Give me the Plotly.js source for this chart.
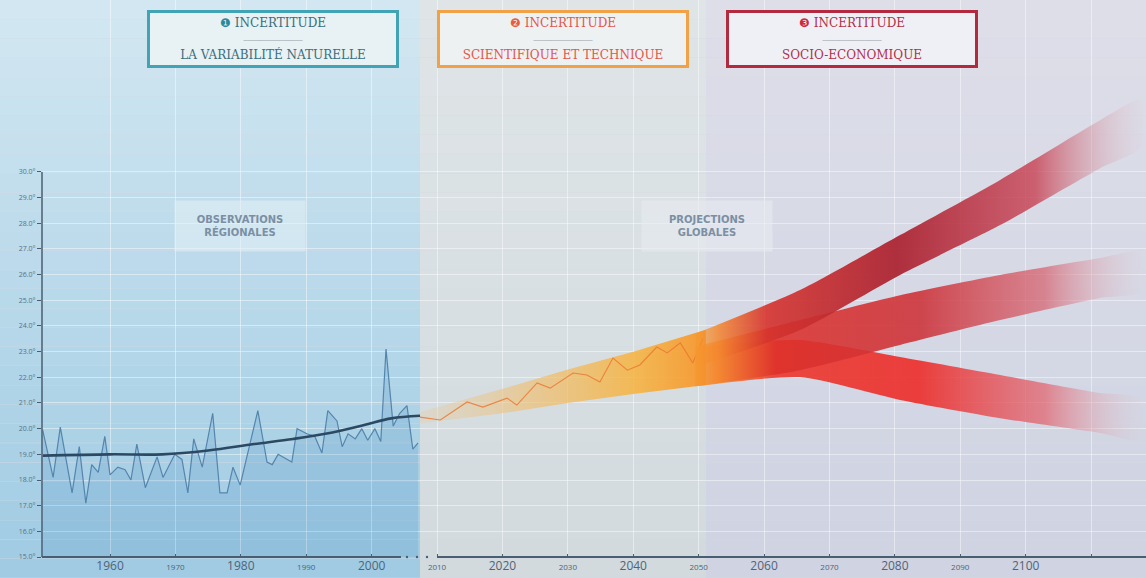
<!DOCTYPE html>
<html><head><meta charset="utf-8">
<script src="https://cdn.plot.ly/plotly-3.0.1.min.js"></script>
<style>html,body{margin:0;padding:0;background:#d5d9e3;} #chart{width:1146px;height:578px;}</style>
</head><body><div id="chart"></div>
<script>
// ---------- data ----------
const histYears = [1949.7,1951.3,1952.4,1954.2,1955.3,1956.3,1957.2,1958.2,1959.2,1960.0,1961.2,1962.3,1963.2,1964.1,1965.4,1967.2,1968.1,1969.9,1971.0,1971.9,1972.8,1974.1,1975.7,1976.8,1977.9,1978.8,1979.9,1982.6,1984.0,1984.8,1985.7,1986.8,1987.8,1988.6,1990.1,1991.3,1992.4,1993.3,1994.7,1995.5,1996.4,1997.5,1998.5,1999.4,2000.5,2001.4,2002.2,2003.3,2004.3,2005.4,2006.3,2007.1];
const histTemps = [19.95,18.1,20.06,17.5,19.3,17.1,18.6,18.3,19.7,18.2,18.5,18.4,18.0,19.4,17.7,18.9,18.1,19.0,18.8,17.5,19.6,18.5,20.6,17.5,17.5,18.5,17.8,20.7,18.7,18.6,19.0,18.85,18.7,20.0,19.8,19.7,19.05,20.7,20.3,19.3,19.8,19.6,20.0,19.55,20.0,19.5,23.1,20.1,20.6,20.9,19.2,19.45];

const trendYears = [1949.7,1960,1968,1975,1982,1988,1994,1999,2003,2007.4];
const trendTemps = [18.95,19.0,19.0,19.15,19.4,19.6,19.85,20.15,20.4,20.5];

const projYears = [2007.4,2010.5,2014.6,2017.0,2020.7,2022.2,2025.3,2027.3,2030.8,2032.9,2034.9,2036.9,2039.1,2041.0,2043.6,2045.2,2047.2,2049.1,2050.7];
const projTemps = [20.45,20.34,21.04,20.84,21.19,20.92,21.78,21.58,22.17,22.09,21.82,22.75,22.28,22.48,23.18,22.95,23.34,22.56,23.53];

const bandYears = [2007.4,2020,2030,2040,2051.1];
const bandUpper = [20.65,21.55,22.3,23.0,23.85];
const bandLower = [20.2,20.6,21.0,21.35,21.7];

const fanYears  = [2049.5,2065.5,2080.8,2096.1,2111.4,2117.5];
const highUpper = [23.7,25.4,27.54,29.69,32.02,32.8];
const highLower = [22.4,23.84,25.99,27.93,30.15,30.93];
const midUpper  = [23.2,24.23,25.2,25.99,26.65,26.88];
const midLower  = [21.65,22.28,23.26,24.23,25.09,25.32];
const lowUpper  = [23.2,23.45,22.79,22.09,21.39,21.19];
const lowLower  = [21.65,22.01,21.12,20.41,19.83,19.56];

const xTickVals   = [1960,1970,1980,1990,2000,2010,2020,2030,2040,2050,2060,2070,2080,2090,2100,2110];
const xTickLabels = ['1960','1970','1980','1990','2000','2010','2020','2030','2040','2050','2060','2070','2080','2090','2100',''];
const yTickVals   = [15,16,17,18,19,20,21,22,23,24,25,26,27,28,29,30];
const yTickLabels = ['15.0°','16.0°','17.0°','18.0°','19.0°','20.0°','21.0°','22.0°','23.0°','24.0°','25.0°','26.0°','27.0°','28.0°','29.0°','30.0°'];

const boxTitles = ['INCERTITUDE','INCERTITUDE','INCERTITUDE'];
const boxSubtitles = ['LA VARIABILITÉ NATURELLE','SCIENTIFIQUE ET TECHNIQUE','SOCIO-ECONOMIQUE'];
const boxNumbers = ['❶','❷','❸'];
const sectionLabels = ['OBSERVATIONS<br>RÉGIONALES','PROJECTIONS<br>GLOBALES'];

// ---------- layout helpers ----------
const X0 = 1949.6, X1 = 2118.4, Y0 = 15, Y1 = 36.7;
const W = 1146, H = 578, ML = 42, MB = 21;
const PW = W - ML, PH = H - MB;
const px = v => (v - ML) / PW;          // pixel x -> paper
const py = v => (PH - v) / PH;          // pixel y -> paper

function lerp(a, b, t){ return a.map((v,i)=>Math.round(v + (b[i]-v)*t)); }
const shapes = [];
function gradBand(x0, x1, top, bot, n){
  for (let i = 0; i < n; i++){
    const c = lerp(top, bot, i/(n-1));
    shapes.push({type:'rect', xref:'paper', yref:'paper', layer:'below',
      x0:x0, x1:x1, y0:py(i*H/n) , y1:py((i+1)*H/n - 0.01) + 0.0005,
      fillcolor:`rgb(${c[0]},${c[1]},${c[2]})`, line:{width:0}});
  }
}
gradBand(px(0), px(420), [210,231,241], [160,203,227], 30);
gradBand(px(420), px(706), [223,229,231], [210,218,222], 30);
gradBand(px(706), px(W), [221,222,232], [207,211,226], 30);

// axis lines (decorations, with the break)
const axisCol = '#4a5e72';
shapes.push({type:'line', xref:'paper', yref:'paper', x0:0, x1:px(401), y0:0, y1:0, line:{color:axisCol, width:2}});
shapes.push({type:'line', xref:'paper', yref:'paper', x0:px(437), x1:1, y0:0, y1:0, line:{color:axisCol, width:2}});
shapes.push({type:'line', xref:'paper', yref:'paper', x0:0, x1:0, y0:0, y1:(30-Y0)/(Y1-Y0), line:{color:axisCol, width:1.5}});
[407,417,427].forEach(x => shapes.push({type:'circle', xref:'paper', yref:'paper',
  x0:px(x-1.2), x1:px(x+1.2), y0:-1.2/PH, y1:1.2/PH, fillcolor:axisCol, line:{width:0}}));

// ---------- traces ----------
const traces = [];
traces.push({x:histYears, y:histTemps, type:'scatter', mode:'lines', fill:'tozeroy',
  fillcolor:'rgba(80,145,195,0.20)', line:{color:'#5485ad', width:1.2}, hoverinfo:'skip'});
traces.push({x:trendYears, y:trendTemps, type:'scatter', mode:'lines',
  line:{color:'#2c4963', width:2.6, shape:'spline'}, hoverinfo:'skip'});

traces.push({x:bandYears.concat(bandYears.slice().reverse()), y:bandUpper.concat(bandLower.slice().reverse()),
  type:'scatter', mode:'lines', fill:'toself', line:{width:0},
  fillgradient:{type:'horizontal', start:2007.4, stop:2051.1, colorscale:[
    [0,'rgba(225,205,170,0.35)'],[0.35,'rgba(240,190,110,0.6)'],[0.75,'rgba(247,178,60,0.85)'],[1,'rgba(246,150,45,0.95)']]},
  hoverinfo:'skip'});
traces.push({x:projYears, y:projTemps, type:'scatter', mode:'lines',
  line:{color:'rgba(235,120,50,0.85)', width:1.1}, hoverinfo:'skip'});

function ribbon(up, lo, scale){
  return {x:fanYears.concat(fanYears.slice().reverse()), y:up.concat(lo.slice().reverse()),
    type:'scatter', mode:'lines', fill:'toself', line:{width:0, shape:'spline', smoothing:0.6},
    fillgradient:{type:'horizontal', start:2049.5, stop:2118, colorscale:scale}, hoverinfo:'skip'};
}
const ribStart = [[0,'rgba(246,152,46,0.55)'],[0.05,'rgba(244,135,46,0.85)']];
traces.push(ribbon(lowUpper, lowLower, ribStart.concat([[0.18,'rgba(236,55,45,0.9)'],[0.5,'rgba(236,48,45,0.92)'],[0.78,'rgba(226,95,105,0.7)'],[1,'rgba(225,195,205,0.03)']])));
traces.push(ribbon(midUpper, midLower, ribStart.concat([[0.18,'rgba(222,48,42,0.88)'],[0.5,'rgba(205,52,58,0.9)'],[0.78,'rgba(214,95,108,0.7)'],[1,'rgba(225,195,205,0.03)']])));
traces.push(ribbon(highUpper, highLower, ribStart.concat([[0.16,'rgba(214,50,45,0.9)'],[0.45,'rgba(172,38,52,0.95)'],[0.76,'rgba(200,65,82,0.8)'],[1,'rgba(225,190,200,0.05)']])));

// ---------- annotations ----------
const boxCenters = [273, 562.5, 851.5];
const boxBorder = ['#40a4b4','#f1a146','#b3293d'];
const boxBg = ['#e8f1f4','#eef1f1','#eff0f5'];
const boxText = ['#3a6e7c','#e0574e','#b0304a'];
const boxNum = ['#2b8a99','#ea5a45','#cf283c'];
const annotations = boxCenters.map((cx,i) => ({
  xref:'paper', yref:'paper', x:px(cx), y:py(39), xanchor:'center', yanchor:'middle',
  showarrow:false, width:244, height:50, borderwidth:3, borderpad:1,
  bordercolor:boxBorder[i], bgcolor:boxBg[i],
  font:{family:'DejaVu Serif', size:12, color:boxText[i]},
  text:`<span style="color:${boxNum[i]}">${boxNumbers[i]}</span> ${boxTitles[i]}<br><span style="font-size:7px;color:#a3aab2">──────────────</span><br>${boxSubtitles[i]}`
}));
[[240,'rgba(228,240,246,0.55)'],[707,'rgba(232,235,240,0.6)']].forEach(([cx,bg],i) => annotations.push({
  xref:'paper', yref:'paper', x:px(cx), y:py(226), xanchor:'center', yanchor:'middle',
  showarrow:false, width:126, height:46, bgcolor:bg, borderpad:2,
  font:{family:'DejaVu Sans', size:10, color:'#7b8fa4', weight:'bold'}, text:sectionLabels[i]}));

const tickText = xTickLabels.map((t,i) => i % 2 === 0 ? t : `<span style="font-size:8px">${t}</span>`);

const layout = {
  width:W, height:H, margin:{l:ML, r:0, t:0, b:MB, pad:0},
  paper_bgcolor:'#d5d9e3', plot_bgcolor:'rgba(0,0,0,0)', showlegend:false,
  xaxis:{range:[X0,X1], tickmode:'array', tickvals:xTickVals, ticktext:tickText,
    showgrid:true, gridcolor:'rgba(255,255,255,0.45)', gridwidth:1, zeroline:false, showline:false,
    ticks:'inside', ticklen:3, tickcolor:axisCol, tickfont:{family:'Open Sans', size:12, color:'#4f6478'}},
  yaxis:{range:[Y0,Y1], tickmode:'array', tickvals:yTickVals, ticktext:yTickLabels,
    showgrid:true, gridcolor:'rgba(255,255,255,0.45)', gridwidth:1, zeroline:false, showline:false,
    ticks:'outside', ticklen:4, tickcolor:axisCol, tickfont:{family:'Open Sans', size:7, color:'#5b6f83'}},
  shapes:shapes, annotations:annotations
};
Plotly.newPlot('chart', traces, layout, {displayModeBar:false, staticPlot:true});
</script></body></html>
